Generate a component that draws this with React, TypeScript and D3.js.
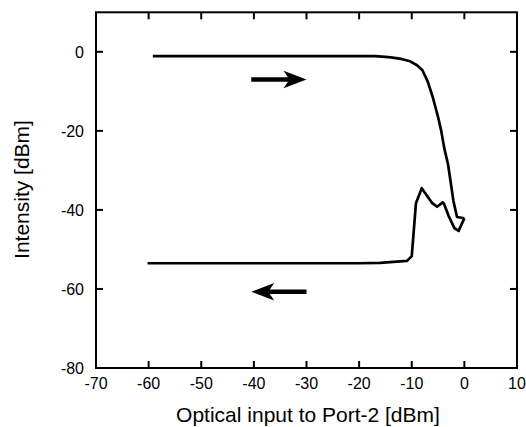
import React from "react";
import * as d3 from "d3";

// Forward sweep (increasing input power)
const forwardX = [-59.2, -55, -50, -45, -40, -35, -30, -25, -20, -17, -15, -14, -12, -10.3, -9, -8, -7, -6, -5, -4.4, -3.8, -3.1, -2.6, -2.1, -1.4, 0];
const forwardY = [-1.1, -1.1, -1.1, -1.1, -1.1, -1.1, -1.1, -1.1, -1.1, -1.1, -1.3, -1.4, -1.8, -2.4, -3.4, -4.6, -7.4, -11.5, -16.5, -20, -24.5, -28.5, -33, -37.6, -41.8, -42.1];

// Backward sweep (decreasing input power)
const backwardX = [0, -1.1, -1.9, -3.0, -3.9, -4.1, -5.2, -6.1, -8.1, -9.2, -10.0, -10.9, -16, -20, -30, -40, -50, -60.2];
const backwardY = [-42.1, -45.3, -44.6, -41.5, -38.4, -38.1, -39.2, -38.3, -34.5, -38.3, -51.7, -52.9, -53.4, -53.5, -53.5, -53.5, -53.5, -53.5];

// Direction arrows: [from x, to x, y]
const arrowFrom = [-40.5, -30];
const arrowTo = [-30, -40.5];
const arrowY = [-7.0, -60.7];

const xTicks = [-70, -60, -50, -40, -30, -20, -10, 0, 10];
const yTicks = [-80, -60, -40, -20, 0];

const xLabel = "Optical input to Port-2 [dBm]";
const yLabel = "Intensity [dBm]";

const W = 526;
const H = 427;
const M = { left: 96, top: 12.3, right: 9, bottom: 59 };
const FONT = "'Liberation Sans', Arial, Helvetica, sans-serif";

export default function App() {
  const x = d3.scaleLinear().domain([-70, 10]).range([M.left, W - M.right]);
  const y = d3.scaleLinear().domain([-80, 10]).range([H - M.bottom, M.top]);

  const line = d3
    .line<[number, number]>()
    .x((d) => x(d[0]))
    .y((d) => y(d[1]));

  const fwd = forwardX.map((v, i) => [v, forwardY[i]] as [number, number]);
  const bwd = backwardX.map((v, i) => [v, backwardY[i]] as [number, number]);

  const x0 = x(-70);
  const x1 = x(10);
  const y0 = y(-80);
  const y1 = y(10);
  const tl = 7;

  const arrows = arrowFrom.map((f, i) => {
    const tx = x(arrowTo[i]);
    const fx = x(f);
    const yy = y(arrowY[i]);
    const dir = tx > fx ? 1 : -1;
    const headLen = 23;
    const headHalf = 8.7;
    const notch = 17;
    const head = `M${tx},${yy} L${tx - dir * headLen},${yy - headHalf} L${tx - dir * notch},${yy} L${tx - dir * headLen},${yy + headHalf} Z`;
    return (
      <g key={i}>
        <line x1={fx} x2={tx - dir * notch} y1={yy} y2={yy} stroke="#000" strokeWidth={4.4} />
        <path d={head} fill="#000" />
      </g>
    );
  });

  return (
    <svg
      width={W}
      height={H}
      style={{ position: "absolute", left: 0, top: 0, background: "#fff" }}
      fontFamily={FONT}
    >
      <rect x={0} y={0} width={W} height={H} fill="#fff" />
      {/* ticks */}
      {xTicks.slice(1, -1).map((t) => (
        <g key={"xt" + t}>
          <line x1={x(t)} x2={x(t)} y1={y0} y2={y0 - tl} stroke="#000" strokeWidth={2} />
          <line x1={x(t)} x2={x(t)} y1={y1} y2={y1 + tl} stroke="#000" strokeWidth={2} />
        </g>
      ))}
      {yTicks.slice(1).map((t) => (
        <g key={"yt" + t}>
          <line x1={x0} x2={x0 + tl} y1={y(t)} y2={y(t)} stroke="#000" strokeWidth={2} />
          <line x1={x1} x2={x1 - tl} y1={y(t)} y2={y(t)} stroke="#000" strokeWidth={2} />
        </g>
      ))}
      {/* frame */}
      <rect x={x0} y={y1} width={x1 - x0} height={y0 - y1} fill="none" stroke="#000" strokeWidth={2} />
      {/* tick labels */}
      {xTicks.map((t) => (
        <text key={"xl" + t} x={x(t)} y={y0 + 20.5} textAnchor="middle" fontSize={16} fill="#000">
          {t}
        </text>
      ))}
      {yTicks.map((t) => (
        <text key={"yl" + t} x={84} y={y(t) + 5.8} textAnchor="end" fontSize={16} fill="#000">
          {t}
        </text>
      ))}
      {/* data */}
      <path d={line(fwd) || ""} fill="none" stroke="#000" strokeWidth={2.7} strokeLinejoin="round" />
      <path d={line(bwd) || ""} fill="none" stroke="#000" strokeWidth={2.7} strokeLinejoin="round" />
      {arrows}
      {/* axis titles */}
      <text x={308} y={422} textAnchor="middle" fontSize={21} fill="#000">
        {xLabel}
      </text>
      <text
        transform={`translate(28.5,189.5) rotate(-90)`}
        textAnchor="middle"
        fontSize={21}
        fill="#000"
      >
        {yLabel}
      </text>
    </svg>
  );
}
